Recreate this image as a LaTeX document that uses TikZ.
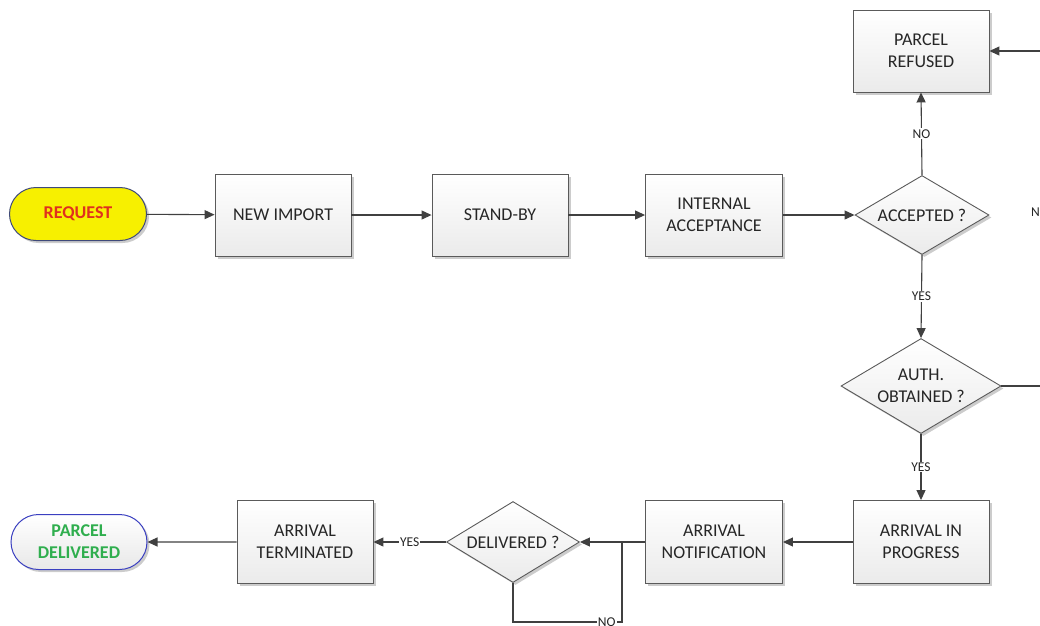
\documentclass[tikz,border=0pt]{standalone}
\usepackage{fontspec}
\setmainfont{Carlito}
\usetikzlibrary{shapes.geometric,shapes.misc,arrows.meta,shadows}
\definecolor{txt}{HTML}{262626}
\definecolor{boxline}{HTML}{5A5A5A}
\definecolor{lncol}{HTML}{404040}
\definecolor{reqyellow}{HTML}{F7F000}
\definecolor{reqborder}{HTML}{3F4A7A}
\definecolor{reqred}{HTML}{E0301E}
\definecolor{delborder}{HTML}{3A3FC0}
\definecolor{delgreen}{HTML}{2FAE4E}
\begin{document}
\begin{tikzpicture}[x=1pt,y=-1pt,
  shad/.style={drop shadow={shadow xshift=2.5pt,shadow yshift=-2.5pt,opacity=0.2,fill=black}},
  box/.style={shad,draw=boxline,line width=0.9pt,top color=white,bottom color=gray!16,
    minimum width=136pt,minimum height=82pt,align=center,inner sep=0pt,
    font=\fontsize{18}{22}\selectfont,text=txt},
  dia/.style={shad,diamond,draw=boxline,line width=0.9pt,top color=white,bottom color=gray!16,
    inner sep=0pt},
  diatext/.style={align=center,inner sep=0pt,font=\fontsize{18}{22}\selectfont,text=txt},
  term/.style={shad,rounded rectangle,line width=1pt,align=center,inner sep=0pt,
    font=\fontsize{18}{22}\selectfont\bfseries},
  ln/.style={draw=lncol,line width=1.1pt},
  arr/.style={ln,-{Triangle[length=10pt,width=9pt]}},
  lbl/.style={fill=white,inner sep=1pt,font=\fontsize{13.5}{15}\selectfont,text=txt}]
\useasboundingbox (0,0) rectangle (1040,625);

\node[term,fill=reqyellow,draw=reqborder,text=reqred,minimum width=137pt,minimum height=53pt] (req) at (78,214) {REQUEST};
\node[box] (imp) at (283,215) {NEW IMPORT};
\node[box] (sb) at (500,215) {STAND-BY};
\node[box,minimum width=137pt] (ia) at (714,215) {INTERNAL\\ACCEPTANCE};
\node[dia,minimum width=134pt,minimum height=79pt] (acc) at (922,215) {};
\node[diatext] (acct) at (acc.center) {ACCEPTED ?};
\node[box,minimum width=136pt,minimum height=82pt] (ref) at (921,51) {PARCEL\\REFUSED};
\node[dia,minimum width=160pt,minimum height=95pt] (auth) at (921,386) {};
\node[diatext] (autht) at (auth.center) {AUTH.\\OBTAINED ?};
\node[box,minimum width=136pt,minimum height=83pt] (aip) at (921,542) {ARRIVAL IN\\PROGRESS};
\node[box,minimum width=137pt,minimum height=83pt] (an) at (714,542) {ARRIVAL\\NOTIFICATION};
\node[dia,minimum width=133pt,minimum height=81pt] (del) at (513,542) {};
\node[diatext] (delt) at (del.center) {DELIVERED ?};
\node[box,minimum width=136pt,minimum height=83pt] (at) at (305,542) {ARRIVAL\\TERMINATED};
\node[term,top color=white,bottom color=gray!18,draw=delborder,text=delgreen,minimum width=136pt,minimum height=55pt] (pd) at (79,542) {PARCEL\\DELIVERED};

\coordinate (inR) at (1045,51);
\coordinate (outR) at (1045,386);
\coordinate (jn) at (622,542);
\coordinate (lp) at (513,622);

\draw[arr] (req) -- (imp);
\draw[arr] (imp) -- (sb);
\draw[arr] (sb) -- (ia);
\draw[arr] (ia) -- (acc);
\draw[arr] (acc.north) -- node[lbl]{NO} (ref.south);
\draw[arr] (acc.south) -- node[lbl]{YES} (auth.north);
\draw[arr] (auth.south) -- node[lbl]{YES} (aip.north);
\draw[arr] (aip) -- (an);
\draw[arr] (an) -- (del);
\draw[arr] (del) -- node[lbl]{YES} (at);
\draw[arr] (at) -- (pd);
\draw[arr] (inR) -- (ref.east);
\draw[ln] (auth.east) -- (outR);
\draw[ln] (del.south) -- (lp) -- node[lbl,pos=0.86]{NO} (lp -| jn) -- (jn);
\node[lbl,anchor=west] (nolbl) at (1030,212) {NO};
\end{tikzpicture}
\end{document}
